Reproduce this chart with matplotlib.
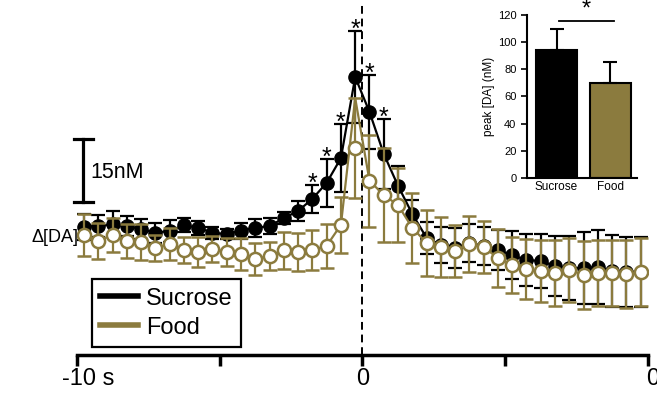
import matplotlib.pyplot as plt
from matplotlib.lines import Line2D
import numpy as np

plt.rcParams['font.family'] = ['Liberation Sans', 'DejaVu Sans']

TAN = '#8b7b3e'

# time bins (s), 0.5 s apart
t = np.arange(-9.75, 10, 0.5)

# dopamine change (nM), mean and SEM
sucrose = [0.1, 0.2, 0.6, 0.2, -0.5, -1.4, -0.9, 0.4, -0.2, -1.4,
           -1.7, -0.9, -0.2, 0.2, 2.1, 3.8, 6.7, 10.5, 16.4, 35.7,
           27.4, 17.4, 9.8, 3.1, -2.6, -4.3, -5.0, -3.8, -4.5, -5.5,
           -6.7, -7.9, -8.1, -9.3, -9.8, -9.8, -9.5, -10.5, -10.7, -10.7]
sucrose_sem = [3.1, 2.6, 3.1, 2.4, 2.4, 2.4, 2.6, 1.7, 1.7, 1.4,
               1.2, 1.9, 2.1, 1.9, 1.5, 2.4, 3.3, 5.7, 8.1, 11.0,
               8.8, 8.3, 4.8, 3.3, 3.8, 4.3, 4.8, 4.5, 4.5, 4.8,
               5.7, 6.2, 6.4, 7.1, 7.6, 8.6, 8.8, 8.6, 8.3, 8.3]
food = [-1.9, -3.3, -1.9, -3.3, -3.5, -5.0, -4.0, -5.6, -5.9, -5.3,
        -5.9, -6.4, -7.6, -6.9, -5.6, -5.9, -5.5, -4.5, 0.5, 18.8,
        11.0, 7.6, 5.2, -0.2, -3.8, -4.8, -5.7, -4.0, -4.8, -7.4,
        -9.0, -10.0, -10.5, -11.0, -10.2, -11.4, -11.0, -11.0, -11.2, -10.7]
food_sem = [5.0, 4.3, 4.0, 4.0, 4.3, 3.1, 3.8, 3.1, 3.6, 3.1,
            3.3, 3.8, 3.8, 3.3, 4.3, 4.5, 4.8, 5.2, 6.7, 11.9,
            11.0, 11.2, 8.8, 8.3, 7.9, 7.1, 6.2, 6.7, 6.2, 6.9,
            6.7, 7.1, 7.4, 7.9, 7.6, 8.1, 7.9, 7.9, 8.1, 8.1]
# the food trace line peaks at the top of the SEM bar in the original
food_line_peak = 30.7
sig_bins = [16, 17, 18, 19, 20, 21]

# inset: peak [DA]
groups = ['Sucrose', 'Food']
peak = [94.3, 70.0]
peak_sem = [15.0, 15.4]

fig = plt.figure(figsize=(6.57, 3.93), dpi=100)
ax = fig.add_axes([0.117, 0.0967, 0.869, 0.9033])

ax.errorbar(t, sucrose, yerr=sucrose_sem, fmt='o-', color='black', ms=9.5,
            lw=1.6, elinewidth=1.6, capsize=5, capthick=1.6, zorder=2)
food_line = list(food)
food_line[19] = food_line_peak
ax.plot(t, food_line, color=TAN, lw=1.6, zorder=3)
ax.errorbar(t, food, yerr=food_sem, fmt='o', color=TAN, mfc='white', mec=TAN,
            mew=1.8, ms=9.5, elinewidth=1.6, capsize=5, capthick=1.6, zorder=4)

for i in sig_bins:
    ax.annotate('*', (t[i], sucrose[i] + sucrose_sem[i]), xytext=(0, -4),
                textcoords='offset points', ha='center', va='baseline',
                fontsize=18)

ax.axvline(0, ymin=0, ymax=0.986, color='black', lw=1.4, ls=(0, (4, 2.5)), zorder=1)

ax.set_xlim(-10, 10)
ax.set_ylim(-30.5, 54.05)
for s in ['left', 'right', 'top']:
    ax.spines[s].set_visible(False)
ax.spines['bottom'].set_linewidth(2.5)
ax.set_yticks([])
ax.set_xticks([-10, -5, 0, 5, 10])
ax.set_xticklabels([])
ax.tick_params(axis='x', length=8, width=2.5)
ax.text(-10.53, -33.5, '-10 s', ha='left', va='top', fontsize=17, clip_on=False)
ax.text(0, -33.5, '0', ha='center', va='top', fontsize=17, clip_on=False)
ax.text(9.95, -33.5, '0', ha='left', va='top', fontsize=17, clip_on=False)

# scale bar
ax.plot([-9.79, -9.79], [6, 21], color='black', lw=2.3, clip_on=False)
ax.plot([-10.1, -9.45], [6, 6], color='black', lw=2.3, clip_on=False)
ax.plot([-10.1, -9.45], [21, 21], color='black', lw=2.3, clip_on=False)
ax.text(-9.54, 12.9, '15nM', ha='left', va='center', fontsize=15.5)
ax.text(-10.75, -2.6, 'Δ[DA]', ha='center', va='center', fontsize=13, clip_on=False)

handles = [Line2D([], [], color='black', lw=4), Line2D([], [], color=TAN, lw=4)]
leg = ax.legend(handles, ['Sucrose', 'Food'], loc='lower left',
                bbox_to_anchor=(0.026, 0.0225), borderaxespad=0, fontsize=17,
                fancybox=False, edgecolor='black', framealpha=1,
                handlelength=1.6, handletextpad=0.35, borderpad=0.35,
                labelspacing=0.3)
leg.get_frame().set_linewidth(1.6)

# inset
axi = fig.add_axes([0.802, 0.547, 0.168, 0.415])
axi.bar([0, 1], peak, width=0.75, color=['black', TAN], edgecolor='black', lw=1.5)
axi.errorbar([0, 1], peak, yerr=[[0, 0], peak_sem], fmt='none', ecolor='black',
             elinewidth=1.5, capsize=5, capthick=1.5)
axi.plot([0.05, 1.07], [115.6, 115.6], color='black', lw=1.3, clip_on=False)
axi.text(0.56, 115.6, '*', ha='center', va='bottom', fontsize=17)
axi.set_xlim(-0.55, 1.5)
axi.set_ylim(0, 120)
axi.set_yticks(range(0, 121, 20))
axi.set_xticks([0, 1])
axi.set_xticklabels(groups, fontsize=8.5)
axi.tick_params(axis='y', labelsize=8, length=4, width=1.2)
axi.tick_params(axis='x', length=0, pad=2)
axi.set_ylabel('peak [DA] (nM)', fontsize=8.5, labelpad=2)
for s in ['right', 'top']:
    axi.spines[s].set_visible(False)
for s in ['left', 'bottom']:
    axi.spines[s].set_linewidth(1.5)

fig.savefig('out.png', dpi=100)
